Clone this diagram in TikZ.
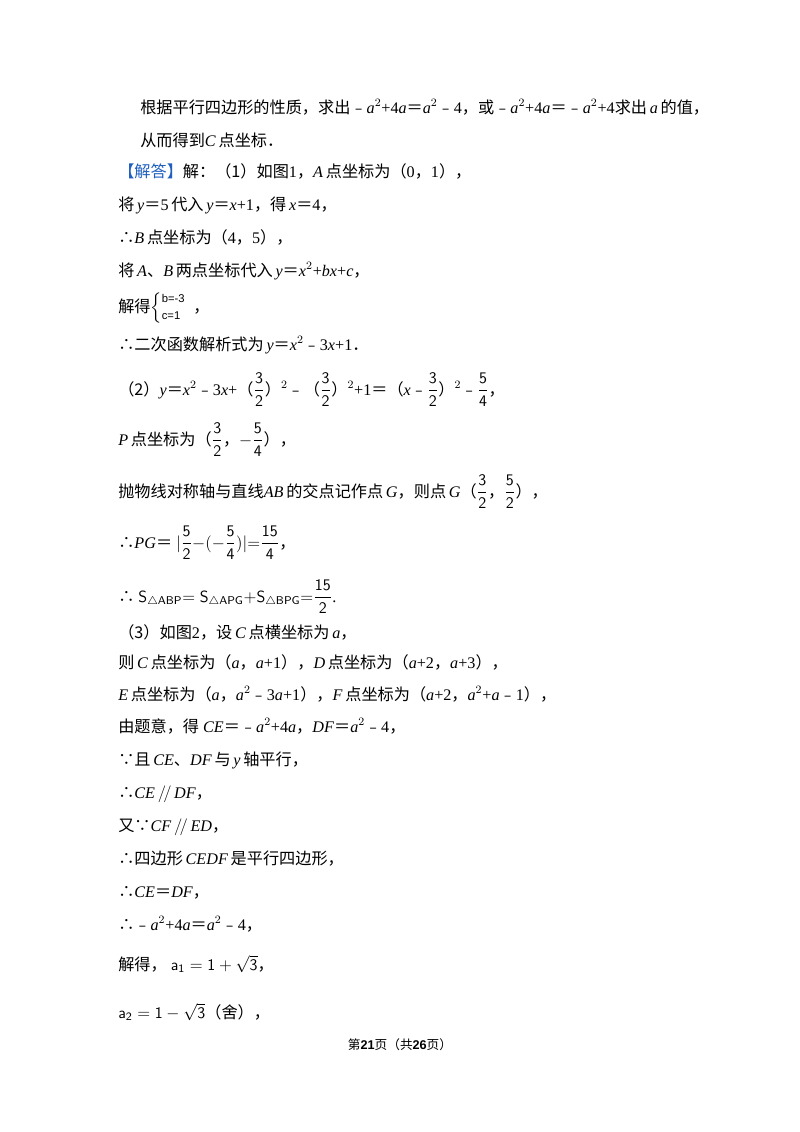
\documentclass[tikz,border=0pt]{standalone}
\usepackage{amsmath}
\usepackage{fontspec}
\setmainfont{Liberation Serif}
\newfontfamily\cjk{Noto Sans CJK SC}
\newfontfamily\sans{Liberation Sans}
\newcommand{\zh}[1]{{\cjk #1}}
\newcommand{\eq}{{\cjk ＝}}
\newcommand{\vi}[1]{\textit{#1}}
\newcommand{\fr}[2]{$\dfrac{\mathsf{#1}}{\mathsf{#2}}$}
\begin{document}
\begin{tikzpicture}[x=0.025cm,y=-0.025cm,
  t/.style={anchor=base west,inner sep=0pt,font=\fontsize{11.5}{14}\selectfont}]
\useasboundingbox (0,0) rectangle (800,1132);
\fill[white] (0,0) rectangle (800,1132);
\node[t] (l1) at (140,113) {\zh{根据平行四边形的性质，求出﹣}\vi{a}$^2$+4\vi{a}\eq\vi{a}$^2$\zh{﹣}4\zh{，或﹣}\vi{a}$^2$+4\vi{a}\eq\zh{﹣}\vi{a}$^2$+4\zh{求出}\,\vi{a}\,\zh{的值，}};
\node[t] (l2) at (140,146) {\zh{从而得到}\vi{C}\,\zh{点坐标．}};
\node[t] (l3) at (118,177) {{\color[HTML]{1F5FBF}\zh{【解答】}}\zh{解：（1）如图}1\zh{，}\vi{A}\,\zh{点坐标为（}0\zh{，}1\zh{），}};
\node[t] (l4) at (118,210) {\zh{将}\,\vi{y}\eq5\,\zh{代入}\,\vi{y}\eq\vi{x}+1\zh{，得}\,\vi{x}\eq4\zh{，}};
\node[t] (l5) at (118,243) {\zh{∴}\vi{B}\,\zh{点坐标为（}4\zh{，}5\zh{），}};
\node[t] (l6) at (118,276) {\zh{将}\,\vi{A}\zh{、}\vi{B}\,\zh{两点坐标代入}\,\vi{y}\eq\vi{x}$^2$+\vi{bx}+\vi{c}\zh{，}};
\node[t] (l7) at (118,312) {\zh{解得}$\left\{\renewcommand{\arraystretch}{0.85}\begin{array}{@{}l}\text{\sans\footnotesize b=-3}\\ \text{\sans\footnotesize c=1}\end{array}\right.$\zh{，}};
\node[t] (l8) at (118,350) {\zh{∴二次函数解析式为}\,\vi{y}\eq\vi{x}$^2$\zh{﹣}3\vi{x}+1\zh{．}};
\node[t] (l9) at (118,395) {\zh{（2）}\vi{y}\eq\vi{x}$^2$\zh{﹣}3\vi{x}+\zh{（}\fr{3}{2}\zh{）}$^2$\zh{﹣（}\fr{3}{2}\zh{）}$^2$+1\eq\zh{（}\vi{x}\zh{﹣}\fr{3}{2}\zh{）}$^2$\zh{﹣}\fr{5}{4}\zh{，}};
\node[t] (l10) at (118,445) {\vi{P}\,\zh{点坐标为（}\fr{3}{2}\zh{，}$\mathsf{-}$\fr{5}{4}\zh{），}};
\node[t] (l11) at (118,497) {\zh{抛物线对称轴与直线}\vi{AB}\,\zh{的交点记作点}\,\vi{G}\zh{，则点}\,\vi{G}\zh{（}\fr{3}{2}\zh{，}\fr{5}{2}\zh{），}};
\node[t] (l12) at (118,548) {\zh{∴}\vi{PG}\eq\ $|\dfrac{\mathsf{5}}{\mathsf{2}}\mathsf{-(-}\dfrac{\mathsf{5}}{\mathsf{4}}\mathsf{)}|\mathsf{=}\dfrac{\mathsf{15}}{\mathsf{4}}$\zh{，}};
\node[t] (l13) at (118,602) {\zh{∴}\ $\mathsf{S}_{\triangle\mathsf{ABP}}\mathsf{=S}_{\triangle\mathsf{APG}}\mathsf{+S}_{\triangle\mathsf{BPG}}\mathsf{=}\dfrac{\mathsf{15}}{\mathsf{2}}$.};
\node[t] (l14) at (118,638) {\zh{（3）如图}2\zh{，设}\,\vi{C}\,\zh{点横坐标为}\,\vi{a}\zh{，}};
\node[t] (l15) at (118,668) {\zh{则}\,\vi{C}\,\zh{点坐标为（}\vi{a}\zh{，}\vi{a}+1\zh{），}\vi{D}\,\zh{点坐标为（}\vi{a}+2\zh{，}\vi{a}+3\zh{），}};
\node[t] (l16) at (118,700) {\vi{E}\,\zh{点坐标为（}\vi{a}\zh{，}\vi{a}$^2$\zh{﹣}3\vi{a}+1\zh{），}\vi{F}\,\zh{点坐标为（}\vi{a}+2\zh{，}\vi{a}$^2$+\vi{a}\zh{﹣}1\zh{），}};
\node[t] (l17) at (118,732) {\zh{由题意，得}\ \vi{CE}\eq\zh{﹣}\vi{a}$^2$+4\vi{a}\zh{，}\vi{DF}\eq\vi{a}$^2$\zh{﹣}4\zh{，}};
\node[t] (l18) at (118,765) {\zh{∵且}\,\vi{CE}\zh{、}\vi{DF}\,\zh{与}\,\vi{y}\,\zh{轴平行，}};
\node[t] (l19) at (118,798) {\zh{∴}\vi{CE}\,$/\!/$\,\vi{DF}\zh{，}};
\node[t] (l20) at (118,831) {\zh{又∵}\vi{CF}\,$/\!/$\,\vi{ED}\zh{，}};
\node[t] (l21) at (118,864) {\zh{∴四边形}\,\vi{CEDF}\,\zh{是平行四边形，}};
\node[t] (l22) at (118,897) {\zh{∴}\vi{CE}\eq\vi{DF}\zh{，}};
\node[t] (l23) at (118,930) {\zh{∴﹣}\vi{a}$^2$+4\vi{a}\eq\vi{a}$^2$\zh{﹣}4\zh{，}};
\node[t] (l24) at (118,970) {\zh{解得，}\ $\mathsf{a_1=1+\sqrt{3}}$\zh{，}};
\node[t] (l25) at (118,1018) {$\mathsf{a_2=1-\sqrt{3}}$\zh{（舍），}};
\node[anchor=base,inner sep=0pt,font=\fontsize{9}{11}\selectfont] (foot) at (400,1049) {\zh{第}\textbf{\sans 21}\zh{页（共}\textbf{\sans 26}\zh{页）}};
\end{tikzpicture}
\end{document}
